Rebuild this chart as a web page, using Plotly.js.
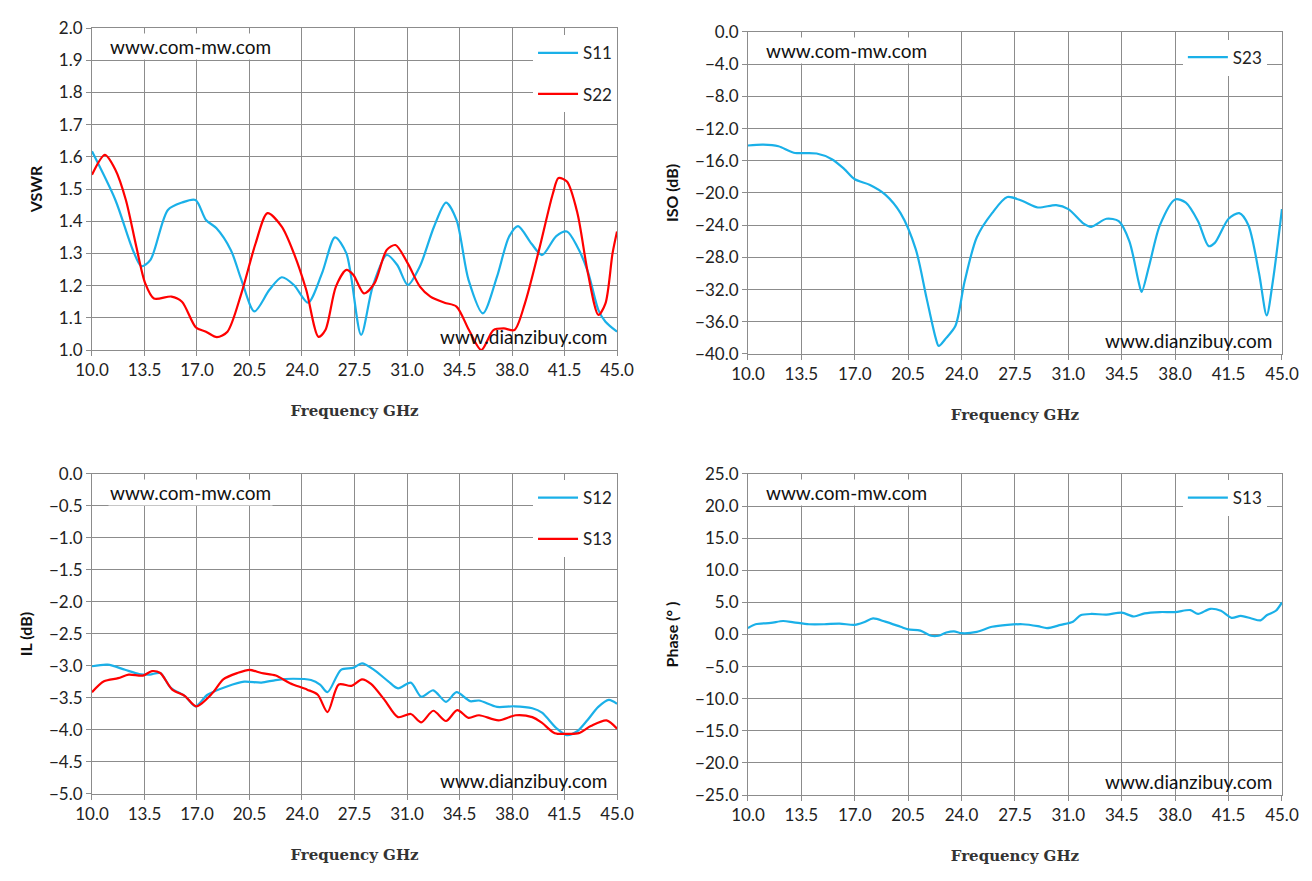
<!DOCTYPE html>
<html><head><meta charset="utf-8">
<script src="https://cdn.plot.ly/plotly-3.0.1.min.js"></script>
<style>body{margin:0;background:#fff}#c{width:1312px;height:881px}</style>
</head><body><div id="c"></div>
<script>
const s11X=[10,11.56,12.73,13.3,13.9,15.06,16,16.9,17.6,18.3,19.26,19.96,20.83,21.83,22.65,23.46,24.4,25.33,26.2,26.96,27.94,28.71,29.65,30.35,31.05,31.86,32.8,33.6,34.3,35.1,36.06,37,37.8,38.4,39.3,40,40.95,41.66,42.36,43.06,43.76,44.23,45];
const s11Y=[1.617,1.466,1.31,1.26,1.28,1.435,1.458,1.466,1.404,1.378,1.31,1.218,1.12,1.187,1.226,1.202,1.147,1.238,1.35,1.30,1.047,1.197,1.295,1.264,1.202,1.26,1.383,1.458,1.404,1.218,1.114,1.228,1.352,1.385,1.33,1.295,1.354,1.368,1.32,1.243,1.124,1.088,1.057];
const s22X=[10,10.86,11.56,12.26,12.96,13.55,14.13,15.3,16,16.93,17.6,18.33,19.03,19.96,20.9,21.7,22.65,23.46,24.28,25.1,25.56,26.26,26.96,27.43,28.13,28.83,29.65,30.23,31.05,31.86,32.56,33.5,34.3,35.13,35.95,36.76,37.46,38.16,38.86,39.8,40.73,41.1,41.66,42.36,43.06,43.76,44.23,44.7,45];
const s22Y=[1.544,1.606,1.56,1.466,1.32,1.207,1.16,1.166,1.15,1.07,1.057,1.04,1.057,1.176,1.33,1.425,1.383,1.30,1.187,1.041,1.062,1.197,1.249,1.233,1.176,1.207,1.311,1.326,1.269,1.197,1.166,1.147,1.135,1.062,1.0,1.062,1.067,1.062,1.145,1.311,1.487,1.534,1.523,1.425,1.238,1.109,1.145,1.30,1.368];
const s23X=[10,11,12,13,14.5,15.5,16.3,17,18,19,20,21,21.7,22.3,22.5,23,23.6,24.2,25,26,27,28,29,30.2,31,32,32.5,33.5,34.3,35,35.6,35.8,36.3,37,38,38.7,39.5,40.2,40.6,41.5,42.2,42.8,43.5,44,44.4,45];
const s23Y=[-14.1,-14,-14.2,-15,-15.1,-15.8,-17,-18.3,-19,-20.2,-22.5,-27,-33,-38,-39,-38,-36.5,-31,-25.5,-22.5,-20.5,-21,-21.8,-21.5,-22,-23.8,-24.2,-23.2,-23.5,-26,-31,-32.3,-29,-24,-20.8,-21.2,-23.5,-26.6,-26.2,-23.2,-22.5,-24,-30,-35.2,-31,-22];
const s12X=[10,11.05,12.2,13.15,13.85,14.55,15.25,16.2,16.9,17.7,19,20.15,21.3,22.25,23.4,24.6,25.2,25.7,26.6,27.4,28,28.8,29.75,30.4,31.25,31.95,32.75,33.6,34.3,35.2,35.8,37,38.15,39.35,40,40.95,41.65,42.35,43.05,43.75,44.45,45];
const s12Y=[-3.005,-2.98,-3.06,-3.125,-3.135,-3.11,-3.34,-3.47,-3.63,-3.45,-3.32,-3.245,-3.26,-3.22,-3.2,-3.22,-3.29,-3.41,-3.06,-3.03,-2.96,-3.06,-3.24,-3.35,-3.26,-3.48,-3.38,-3.56,-3.41,-3.55,-3.54,-3.64,-3.63,-3.66,-3.73,-3.97,-4.08,-4.02,-3.84,-3.64,-3.53,-3.59];
const s13X=[10,10.8,11.75,12.45,13.4,14,14.55,15.35,16.2,16.95,18.05,18.75,19.7,20.5,21.3,22.25,23.2,24.35,25.05,25.7,26.45,27.3,28,28.6,29.5,30.4,31.25,31.95,32.75,33.6,34.35,35.1,35.8,37.1,38.25,39.35,40,40.85,41.75,42.45,43.25,44.3,45];
const s13Y=[-3.41,-3.24,-3.19,-3.135,-3.15,-3.08,-3.11,-3.37,-3.47,-3.63,-3.42,-3.21,-3.11,-3.06,-3.11,-3.15,-3.27,-3.37,-3.45,-3.72,-3.29,-3.31,-3.21,-3.28,-3.53,-3.80,-3.75,-3.88,-3.70,-3.86,-3.69,-3.81,-3.77,-3.85,-3.77,-3.80,-3.89,-4.05,-4.06,-4.05,-3.94,-3.85,-3.98];
const phX=[10,10.5,11.5,12.3,13,14,15,16,17,17.6,18.2,19,20,20.5,21.3,22,22.5,23,23.5,24,25,26,27,28,29,29.6,30.5,31.3,31.8,32.5,33.5,34.5,35.3,36,37,38,39,39.5,40.3,41,41.7,42.3,43,43.6,44,44.6,45];
const phY=[1.0,1.6,1.8,2.1,1.9,1.6,1.6,1.7,1.5,1.9,2.5,2.0,1.2,0.8,0.6,-0.2,-0.2,0.3,0.5,0.2,0.4,1.2,1.5,1.6,1.3,1.0,1.5,2.0,3.0,3.2,3.1,3.4,2.8,3.3,3.5,3.5,3.8,3.2,4.0,3.7,2.6,2.9,2.5,2.2,3.0,3.7,5.0];

const BLUE='#1ab0e8', RED='#ff0000';
const ln=(c)=>({color:c,width:2.2,shape:'spline',smoothing:0.8});
const traces=[
 {x:s11X,y:s11Y,name:'S11',mode:'lines',line:ln(BLUE),xaxis:'x',yaxis:'y',legend:'legend',legendgroup:'a'},
 {x:s22X,y:s22Y,name:'S22',mode:'lines',line:ln(RED),xaxis:'x',yaxis:'y',legend:'legend',legendgroup:'b'},
 {x:s23X,y:s23Y,name:'S23',mode:'lines',line:ln(BLUE),xaxis:'x2',yaxis:'y2',legend:'legend2',legendgroup:'c'},
 {x:s12X,y:s12Y,name:'S12',mode:'lines',line:ln(BLUE),xaxis:'x3',yaxis:'y3',legend:'legend3',legendgroup:'d'},
 {x:s13X,y:s13Y,name:'S13',mode:'lines',line:ln(RED),xaxis:'x3',yaxis:'y3',legend:'legend3',legendgroup:'e'},
 {x:phX,y:phY,name:'S13',mode:'lines',line:ln(BLUE),xaxis:'x4',yaxis:'y4',legend:'legend4',legendgroup:'f'}
];
const tf={family:'Lato, "Open Sans", sans-serif',size:17,color:'#222'};
const xt={family:'"DejaVu Serif", serif',size:15,color:'#333',weight:'bold'};
const yt={family:'Lato, sans-serif',size:16,color:'#111',weight:'bold'};
function xa(dom,anchor){return {domain:dom,anchor:anchor,range:[10,45],dtick:3.5,tick0:10,tickformat:'.1f',showgrid:true,gridcolor:'#8c8c8c',gridwidth:1,showline:true,linecolor:'#8c8c8c',mirror:true,zeroline:false,ticks:'outside',ticklen:5,tickcolor:'#8c8c8c',tickfont:tf,title:{text:'Frequency GHz',font:xt,standoff:26}};}
function ya(dom,anchor,r,d,t){return {domain:dom,anchor:anchor,range:r,dtick:d,tick0:r[0],tickformat:'.1f',showgrid:true,gridcolor:'#8c8c8c',gridwidth:1,showline:true,linecolor:'#8c8c8c',mirror:true,zeroline:false,ticks:'outside',ticklen:5,tickcolor:'#8c8c8c',tickfont:tf,title:{text:t,font:yt,standoff:12}};}
const lg=(x,y)=>({x:x,y:y,xanchor:'right',yanchor:'top',bgcolor:'#fff',font:{family:'Lato, sans-serif',size:17,color:'#222'},tracegroupgap:16,itemwidth:40});
const ann=(xr,yr,x,y,t,xa_,ya_,bg)=>({xref:xr,yref:yr,x:x,y:y,text:t,showarrow:false,xanchor:xa_,yanchor:ya_,font:{family:'Lato, "Open Sans", sans-serif',size:19,color:'#111'},bgcolor:bg});
const D={L:[0.0701,0.4703],R:[0.5701,0.9771]};
const layout={width:1312,height:881,margin:{l:0,r:0,t:0,b:0},paper_bgcolor:'#fff',plot_bgcolor:'#fff',showlegend:true,
 xaxis:xa(D.L,'y'),yaxis:ya([0.6027,0.9682],'x',[1,2],0.1,'VSWR'),
 xaxis2:xa(D.R,'y2'),yaxis2:ya([0.5982,0.9637],'x2',[-40,0],4,'ISO (dB)'),
 xaxis3:xa(D.L,'y3'),yaxis3:ya([0.0988,0.462],'x3',[-5,0],0.5,'IL (dB)'),
 xaxis4:xa(D.R,'y4'),yaxis4:ya([0.0976,0.462],'x4',[-25,25],5,'Phase (°\u00a0)'),
 legend:lg(0.4703,0.96),legend2:lg(0.9656,0.955),legend3:lg(0.4703,0.455),legend4:lg(0.9656,0.455),
 annotations:[
  ann('x domain','y domain',0.03,0.985,'www.com-mw.com','left','top','#fff'),
  ann('x domain','y domain',0.985,0.0,'www.dianzibuy.com','right','bottom','rgba(0,0,0,0)'),
  ann('x2 domain','y2 domain',0.03,0.985,'www.com-mw.com','left','top','#fff'),
  ann('x2 domain','y2 domain',0.985,0.0,'www.dianzibuy.com','right','bottom','rgba(0,0,0,0)'),
  ann('x3 domain','y3 domain',0.03,0.985,'www.com-mw.com','left','top','#fff'),
  ann('x3 domain','y3 domain',0.985,0.0,'www.dianzibuy.com','right','bottom','rgba(0,0,0,0)'),
  ann('x4 domain','y4 domain',0.03,0.985,'www.com-mw.com','left','top','#fff'),
  ann('x4 domain','y4 domain',0.985,0.0,'www.dianzibuy.com','right','bottom','rgba(0,0,0,0)')
 ]};
Plotly.newPlot('c',traces,layout,{staticPlot:true});
</script></body></html>
